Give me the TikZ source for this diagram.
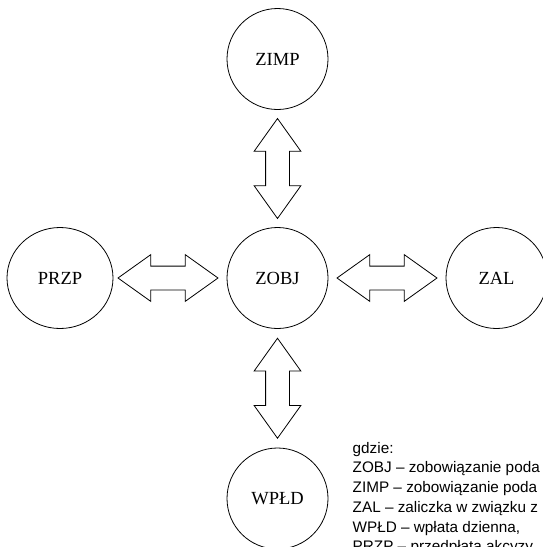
\documentclass[tikz,border=0pt]{standalone}
\usepackage{fontspec}
\setmainfont{Liberation Serif}
\newfontfamily\legendfont{Liberation Sans}
\usetikzlibrary{shapes.arrows,shapes.geometric}
\tikzset{%
  % Specifications for style of nodes:
            obj/.style = {circle, draw=black, line width=0.8pt,
                          minimum size=101pt, inner sep=0pt,
                          font=\fontsize{18.5}{21}\selectfont},
       dblarrow/.style = {double arrow, draw=black, line width=0.8pt,
                          fill=white, minimum height=100pt,
                          inner xsep=0pt, inner ysep=11.5pt,
                          double arrow head extend=11.5pt,
                          double arrow tip angle=71},
      legendtxt/.style = {align=left, inner sep=0pt,
                          font=\legendfont\fontsize{15.3}{19.7}\selectfont}
                           }

\begin{document}
\begin{tikzpicture}[x=1pt, y=-1pt, node distance=219pt]
                    \useasboundingbox (0,0) rectangle (543,547);

                    \node (zobj) [obj] at (277.5,278)  {ZOBJ};
                    \node (zimp) [obj, above of=zobj]  {ZIMP};
                    \node (wpld) [obj, below of=zobj, yshift=-1.5pt] {WPŁD};
                    \node (przp) [obj, ellipse, minimum width=106pt, left of=zobj, xshift=1.5pt] {PRZP};
                    \node (zal)  [obj, right of=zobj]  {ZAL};

                    \path (zimp) -- node (a1) [dblarrow, sloped] {} (zobj);
                    \path (zobj) -- node (a2) [dblarrow, sloped] {} (wpld);
                    \path (przp) -- node (a3) [dblarrow, sloped, xshift=-2pt] {} (zobj);
                    \path (zobj) -- node (a4) [dblarrow, sloped] {} (zal);

                    \node (legend) [legendtxt, anchor=north west] at (352.5,442)
                      {gdzie:\\
                       ZOBJ – zobowiązanie poda\\
                       ZIMP – zobowiązanie poda\\
                       ZAL – zaliczka w związku z\\
                       WPŁD – wpłata dzienna,\\
                       PRZP – przedpłata akcyzy};
                \end{tikzpicture}
\end{document}
